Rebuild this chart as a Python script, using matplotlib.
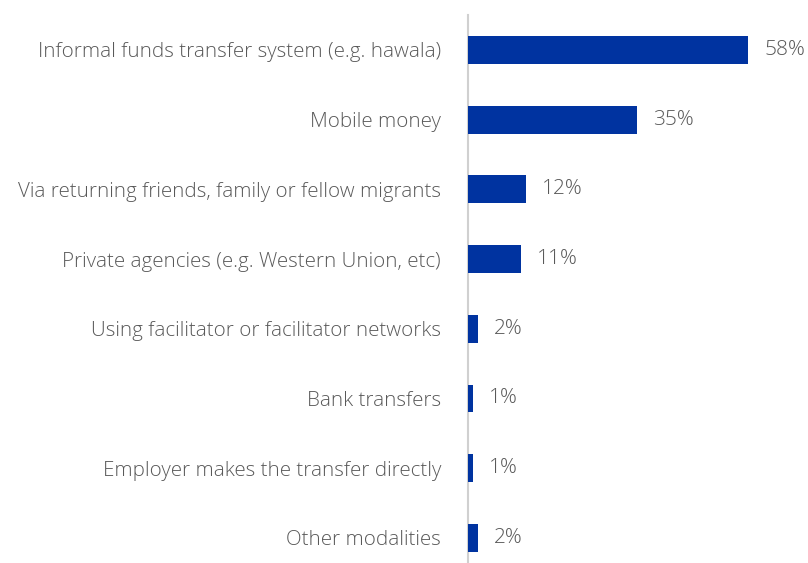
import matplotlib
matplotlib.use("Agg")
import matplotlib.pyplot as plt
from matplotlib.transforms import offset_copy

categories = [
    "Informal funds transfer system (e.g. hawala)",
    "Mobile money",
    "Via returning friends, family or fellow migrants",
    "Private agencies (e.g. Western Union, etc)",
    "Using facilitator or facilitator networks",
    "Bank transfers",
    "Employer makes the transfer directly",
    "Other modalities",
]
values = [58, 35, 12, 11, 2, 1, 1, 2]

BAR_COLOR = "#0033a0"
TEXT_COLOR = "#595959"
plt.rcParams["font.family"] = ["Open Sans", "DejaVu Sans"]

W, H = 808, 563
fig = plt.figure(figsize=(W / 100, H / 100), dpi=100)
ax = fig.add_axes([468 / W, 0, 1 - 468 / W, (H - 15) / H])

ypos = list(range(len(categories)))
ax.barh(ypos, values, height=0.4, color=BAR_COLOR, zorder=3)

ax.set_xlim(0, 70.4)
ax.set_ylim(7.36, -0.5)

for spine in ["top", "right", "bottom"]:
    ax.spines[spine].set_visible(False)
ax.spines["left"].set_color("#d0d0d0")
ax.spines["left"].set_linewidth(1.5)
ax.set_xticks([])
ax.set_yticks(ypos)
ax.set_yticklabels(categories, fontsize=14.8, color=TEXT_COLOR, fontweight="light")
ax.tick_params(axis="y", length=0, pad=19.5)

for y, v in zip(ypos, values):
    tr = offset_copy(ax.transData, fig=fig, x=16, y=0, units="dots")
    ax.text(v, y, f"{v}%", transform=tr, ha="left", va="center",
            fontsize=15, color=TEXT_COLOR, fontweight="light")

fig.savefig("out.png", dpi=100)
